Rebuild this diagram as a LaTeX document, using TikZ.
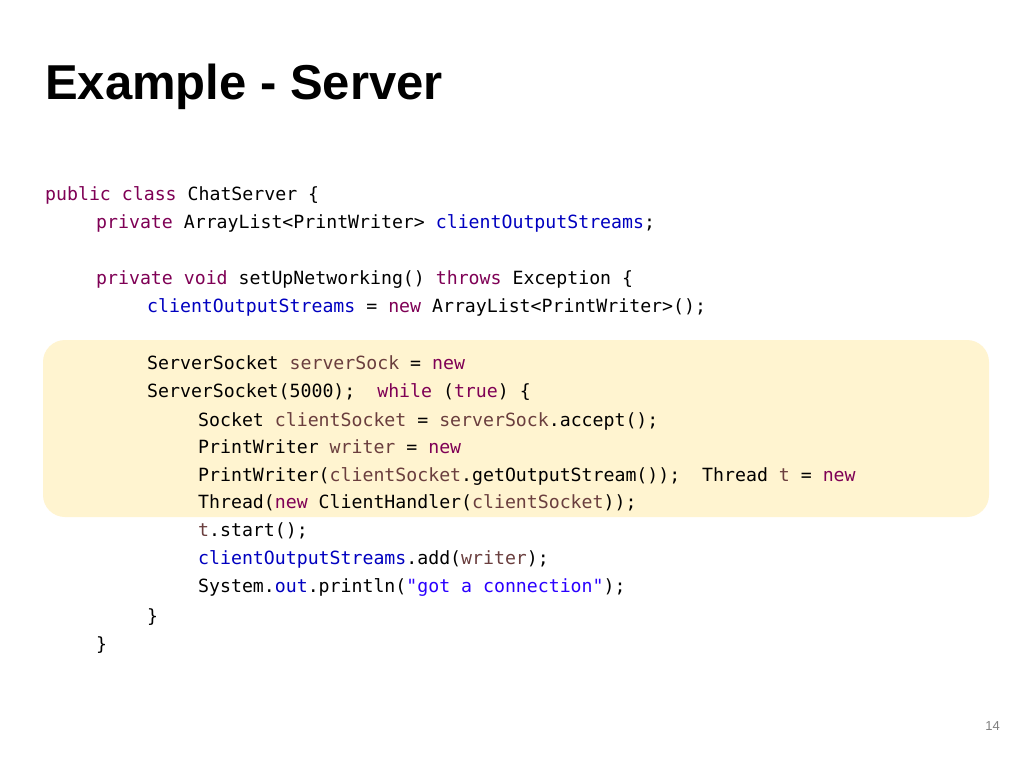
\documentclass[tikz,border=0pt]{standalone}
\usepackage{fontspec}
\setmainfont{Liberation Sans}
\setmonofont{DejaVu Sans Mono}
\definecolor{kwcol}{RGB}{127,0,85}
\definecolor{fldcol}{RGB}{0,0,192}
\definecolor{loccol}{RGB}{106,62,62}
\definecolor{strcol}{RGB}{42,0,255}
\definecolor{hlcol}{RGB}{255,244,208}
\newcommand{\kw}[1]{\textcolor{kwcol}{#1}}
\newcommand{\fld}[1]{\textcolor{fldcol}{#1}}
\newcommand{\loc}[1]{\textcolor{loccol}{#1}}
\newcommand{\str}[1]{\textcolor{strcol}{#1}}
\tikzset{codeline/.style={anchor=base west,inner sep=0pt,font=\ttfamily\fontsize{18.2}{20}\selectfont}}
\begin{document}
\begin{tikzpicture}[x=1pt,y=-1pt]
\useasboundingbox (0,0) rectangle (1024,768);
\fill[white] (0,0) rectangle (1024,768);

% highlight band
\fill[hlcol,rounded corners=22pt] (43,340) rectangle (989,517);

% title
\node[anchor=base west,inner sep=0pt,font=\bfseries\fontsize{49}{52}\selectfont] (title) at (45,99) {Example - Server};

% code
\node[codeline] (l1) at (45,200) {\kw{public} \kw{class} ChatServer \{};
\node[codeline] (l2) at (96,228) {\kw{private} ArrayList<PrintWriter> \fld{clientOutputStreams};};
\node[codeline] (l3) at (96,284) {\kw{private} \kw{void} setUpNetworking() \kw{throws} Exception \{};
\node[codeline] (l4) at (147,312) {\fld{clientOutputStreams} = \kw{new} ArrayList<PrintWriter>();};
\node[codeline] (l5) at (147,369) {ServerSocket \loc{serverSock} = \kw{new}};
\node[codeline] (l6) at (147,397) {ServerSocket(5000);\ \ \kw{while} (\kw{true}) \{};
\node[codeline] (l7) at (198,426) {Socket \loc{clientSocket} = \loc{serverSock}.accept();};
\node[codeline] (l8) at (198,453) {PrintWriter \loc{writer} = \kw{new}};
\node[codeline] (l9) at (198,481) {PrintWriter(\loc{clientSocket}.getOutputStream());\ \ Thread \loc{t} = \kw{new}};
\node[codeline] (l10) at (198,508) {Thread(\kw{new} ClientHandler(\loc{clientSocket}));};
\node[codeline] (l11) at (198,536) {\loc{t}.start();};
\node[codeline] (l12) at (198,564) {\fld{clientOutputStreams}.add(\loc{writer});};
\node[codeline] (l13) at (198,592) {System.\fld{out}.println(\str{"got a connection"});};
\node[codeline] (l14) at (147,622) {\}};
\node[codeline] (l15) at (96,650) {\}};

% page number
\node[anchor=base east,inner sep=0pt,font=\fontsize{13}{15}\selectfont,text=gray] (page) at (1000,730) {14};
\end{tikzpicture}
\end{document}
